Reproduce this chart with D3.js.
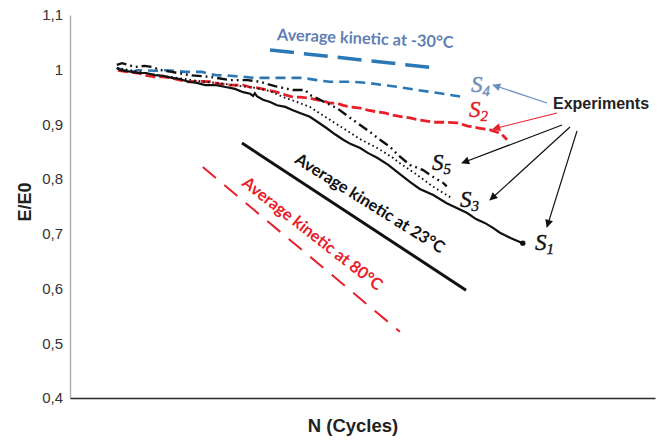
<!DOCTYPE html>
<html><head><meta charset="utf-8">
<script src="https://cdn.jsdelivr.net/npm/d3@7"></script>
<style>
html,body{margin:0;padding:0;background:#fff;}
svg{display:block;}
</style></head>
<body>
<svg id="chart" width="668" height="441"></svg>
<script>
// ---- data (x: N in arbitrary cycle units, y: E/E0) ----
const yTicks = [0.4, 0.5, 0.6, 0.7, 0.8, 0.9, 1.0, 1.1];
const yTickLabels = ["0,4", "0,5", "0,6", "0,7", "0,8", "0,9", "1", "1,1"];
const xDomain = [0, 100];
const yDomain = [0.4, 1.1];

const s1 = [[8.0,1.003],[8.7,0.999],[9.4,0.998],[10.6,0.996],[11.6,0.994],[13.0,0.994],[14.5,0.990],[15.9,0.989],[17.4,0.985],[18.8,0.983],[20.2,0.978],[21.7,0.976],[23.1,0.972],[24.8,0.972],[26.8,0.968],[28.2,0.965],[29.6,0.959],[30.8,0.956],[31.3,0.952],[31.6,0.957],[32.0,0.951],[33.0,0.945],[34.2,0.941],[35.4,0.935],[36.8,0.932],[38.1,0.926],[39.3,0.921],[41.0,0.914],[42.4,0.904],[43.9,0.893],[45.3,0.882],[46.7,0.872],[48.0,0.864],[49.6,0.857],[50.9,0.848],[52.5,0.839],[54.4,0.826],[56.4,0.809],[58.1,0.795],[59.8,0.782],[62.1,0.771],[64.4,0.756],[66.2,0.747],[67.9,0.738],[69.4,0.727],[70.9,0.720],[72.3,0.711],[73.5,0.702],[75.4,0.692],[77.4,0.683]];
const s2 = [[8.2,0.999],[9.9,0.996],[11.6,0.994],[13.2,0.989],[14.5,0.987],[15.9,0.987],[17.4,0.985],[18.8,0.981],[20.2,0.978],[21.9,0.979],[23.9,0.978],[25.6,0.974],[27.4,0.972],[29.6,0.972],[30.8,0.968],[32.0,0.967],[33.7,0.963],[35.4,0.959],[36.8,0.954],[38.1,0.950],[39.3,0.950],[41.0,0.948],[42.2,0.945],[43.2,0.943],[44.4,0.939],[45.6,0.939],[46.7,0.935],[47.9,0.932],[49.6,0.930],[50.9,0.926],[52.5,0.923],[53.8,0.921],[55.2,0.917],[56.8,0.914],[58.1,0.912],[59.8,0.908],[62.1,0.904],[64.1,0.904],[66.2,0.903],[68.0,0.897],[70.1,0.893],[71.8,0.890],[73.0,0.886],[73.8,0.882],[74.7,0.872]];
const s3 = [[8.0,1.003],[11.1,0.998],[13.7,0.992],[17.1,0.987],[22.2,0.979],[26.5,0.974],[29.1,0.970],[31.6,0.967],[34.2,0.961],[36.4,0.950],[38.8,0.941],[41.0,0.932],[43.9,0.912],[46.7,0.893],[49.6,0.873],[52.5,0.857],[55.2,0.839],[56.4,0.829],[58.9,0.811],[62.1,0.786],[65.0,0.767]];
const s4 = [[8.0,1.003],[9.2,0.999],[10.6,0.996],[11.6,0.999],[12.8,0.999],[14.5,0.998],[16.2,0.999],[17.9,0.998],[19.7,0.996],[22.6,0.996],[23.9,0.992],[25.1,0.990],[27.4,0.989],[29.6,0.987],[31.6,0.985],[33.7,0.985],[37.1,0.985],[39.8,0.985],[42.2,0.981],[44.4,0.978],[47.9,0.978],[50.8,0.976],[53.5,0.972],[56.4,0.968],[59.3,0.963],[63.2,0.957],[67.2,0.950]];
const s5 = [[8.0,1.009],[8.9,1.012],[9.9,1.009],[11.1,1.005],[12.8,1.007],[14.0,1.005],[15.7,0.999],[17.4,0.996],[20.5,0.990],[23.9,0.987],[27.4,0.981],[30.3,0.981],[32.5,0.978],[35.0,0.970],[38.1,0.963],[40.2,0.963],[41.0,0.954],[43.1,0.943],[45.6,0.930],[47.5,0.915],[49.6,0.899],[51.3,0.886],[53.0,0.872],[54.7,0.859],[56.1,0.844],[58.1,0.826],[60.3,0.817],[62.1,0.804],[63.8,0.793],[64.4,0.787]];

const kineticM30 = [[34.2,1.036],[62.7,1.003]];
const kinetic23  = [[29.4,0.866],[67.7,0.597]];
const kinetic80  = [[22.7,0.822],[56.4,0.521]];

// ---- drawing ----
const svg = d3.select("#chart");
const x = d3.scaleLinear().domain(xDomain).range([70, 655]);
const y = d3.scaleLinear().domain(yDomain).range([398, 15]);
const line = d3.line().x(d => x(d[0])).y(d => y(d[1]));

const RED = "#e8202a", BLUE = "#2a78b6", BLUEGRAY = "#6d8dc0";

// y axis
const yAxis = svg.append("g").attr("transform", `translate(${x(0)},0)`)
  .call(d3.axisLeft(y).tickValues(yTicks).tickSize(0).tickPadding(7)
    .tickFormat((d, i) => yTickLabels[i]));
yAxis.select(".domain").attr("stroke", "#b3b3b3").attr("stroke-width", 1.5);
yAxis.selectAll("text").attr("font-family", "'Liberation Sans', Arial, sans-serif")
  .attr("font-size", 15).attr("fill", "#333");

// x axis
const xAxis = svg.append("g").attr("transform", `translate(0,${y(0.4)})`)
  .call(d3.axisBottom(x).tickValues([]).tickSize(0));
xAxis.select(".domain").attr("stroke", "#2a2a2a").attr("stroke-width", 1.5);

// axis titles
svg.append("text").attr("transform", "translate(31,202) rotate(-90)")
  .attr("text-anchor", "middle").attr("font-family", "'Liberation Sans', Arial, sans-serif")
  .attr("font-weight", "bold").attr("font-size", 18).attr("fill", "#222").text("E/E0");
svg.append("text").attr("x", 353).attr("y", 432)
  .attr("text-anchor", "middle").attr("font-family", "'Liberation Sans', Arial, sans-serif")
  .attr("font-weight", "bold").attr("font-size", 18.5).attr("fill", "#222").text("N (Cycles)");

// kinetic lines
svg.append("path").datum(kineticM30).attr("d", line).attr("fill", "none")
  .attr("stroke", BLUE).attr("stroke-width", 3.5).attr("stroke-dasharray", "24,10");
svg.append("path").datum(kinetic23).attr("d", line).attr("fill", "none")
  .attr("stroke", "#111").attr("stroke-width", 3);
svg.append("path").datum(kinetic80).attr("d", line).attr("fill", "none")
  .attr("stroke", RED).attr("stroke-width", 2).attr("stroke-dasharray", "17,11");

// experiment curves
svg.append("path").datum(s4).attr("d", line).attr("fill", "none")
  .attr("stroke", BLUE).attr("stroke-width", 2.6).attr("stroke-dasharray", "10,6");
svg.append("path").datum(s2).attr("d", line).attr("fill", "none")
  .attr("stroke", RED).attr("stroke-width", 2.8).attr("stroke-dasharray", "10,4");
svg.append("path").datum(s3).attr("d", line).attr("fill", "none")
  .attr("stroke", "#111").attr("stroke-width", 1.9).attr("stroke-dasharray", "1.6,3");
svg.append("path").datum(s5).attr("d", line).attr("fill", "none")
  .attr("stroke", "#111").attr("stroke-width", 2.4).attr("stroke-dasharray", "10,4,1.8,4,1.8,4");
svg.append("path").datum(s1).attr("d", line).attr("fill", "none")
  .attr("stroke", "#111").attr("stroke-width", 2.2);
const last = s1[s1.length - 1];
svg.append("circle").attr("cx", x(last[0])).attr("cy", y(last[1])).attr("r", 2.7).attr("fill", "#111");

// kinetic labels
const sansFont = "Lato, 'Open Sans', sans-serif";
svg.append("text").attr("transform", "translate(365,44) rotate(2.5)")
  .attr("text-anchor", "middle").attr("font-family", sansFont).attr("font-weight", "bold")
  .attr("font-size", 16.3).attr("fill", "#5f80b4").text("Average kinetic at -30°C");
svg.append("text").attr("transform", "translate(367,208) rotate(32)")
  .attr("text-anchor", "middle").attr("font-family", sansFont).attr("font-weight", "bold")
  .attr("font-size", 16.5).attr("fill", "#111").text("Average kinetic at 23°C");
svg.append("text").attr("transform", "translate(309,238) rotate(38)")
  .attr("text-anchor", "middle").attr("font-family", sansFont).attr("font-weight", "bold")
  .attr("font-size", 16.5).attr("fill", RED).text("Average kinetic at 80°C");

// S labels
const sLabels = [
  {n: "4", x: 471, y: 92, c: BLUEGRAY},
  {n: "2", x: 469, y: 117, c: RED},
  {n: "5", x: 432, y: 170, c: "#111"},
  {n: "3", x: 460, y: 207, c: "#111"},
  {n: "1", x: 535, y: 250, c: "#111"}
];
sLabels.forEach(s => {
  const t = svg.append("text").attr("x", s.x).attr("y", s.y)
    .attr("font-family", "'Liberation Serif', 'Times New Roman', serif")
    .attr("font-style", "italic").attr("font-size", 23).attr("fill", s.c)
    .attr("stroke", s.c).attr("stroke-width", 0.4);
  t.append("tspan").text("S");
  t.append("tspan").attr("font-size", 15).attr("dy", 4).text(s.n);
});

// Experiments + arrows
svg.append("text").attr("x", 553).attr("y", 109)
  .attr("font-family", "'Liberation Sans', Arial, sans-serif").attr("font-weight", "bold")
  .attr("font-size", 16).attr("fill", "#222").text("Experiments");

const defs = svg.append("defs");
function marker(id, color) {
  defs.append("marker").attr("id", id).attr("viewBox", "0 0 10 10")
    .attr("refX", 9).attr("refY", 5).attr("markerWidth", 10).attr("markerHeight", 8)
    .attr("markerUnits", "userSpaceOnUse").attr("orient", "auto")
    .append("path").attr("d", "M0,0 L10,5 L0,10 Z").attr("fill", color);
}
marker("mBlue", BLUEGRAY); marker("mRed", RED); marker("mBlack", "#111");
const arrows = [
  {x1: 547, y1: 103, x2: 493, y2: 85, c: BLUEGRAY, m: "mBlue"},
  {x1: 557, y1: 113, x2: 493, y2: 129, c: RED, m: "mRed"},
  {x1: 562, y1: 125, x2: 462, y2: 163, c: "#111", m: "mBlack"},
  {x1: 570, y1: 127, x2: 490, y2: 200, c: "#111", m: "mBlack"},
  {x1: 577, y1: 131, x2: 547, y2: 227, c: "#111", m: "mBlack"}
];
arrows.forEach(a => {
  svg.append("line").attr("x1", a.x1).attr("y1", a.y1).attr("x2", a.x2).attr("y2", a.y2)
    .attr("stroke", a.c).attr("stroke-width", 1.2).attr("marker-end", `url(#${a.m})`);
});
</script>
</body></html>
